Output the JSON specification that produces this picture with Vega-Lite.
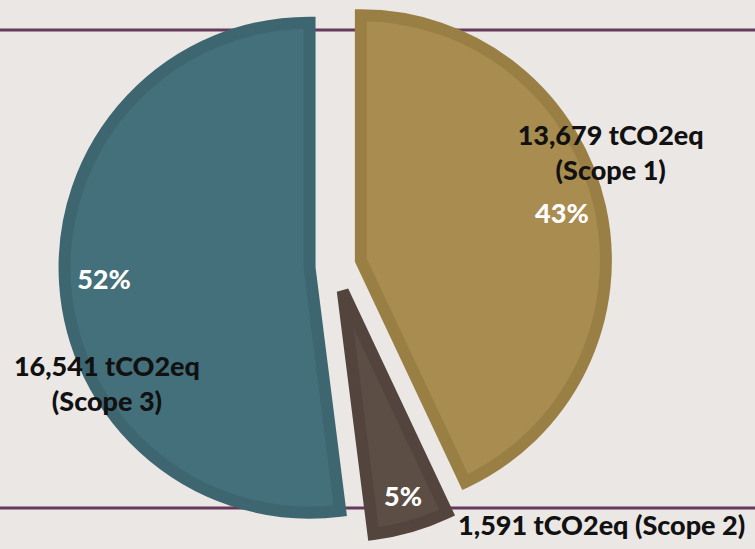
{
  "$schema": "https://vega.github.io/schema/vega-lite/v6.json",
  "width": 755,
  "height": 549,
  "autosize": {"type": "none"},
  "padding": 0,
  "background": "#ebe7e5",
  "config": {"view": {"stroke": null}},
  "datasets": {
    "slices": [
      {"scope": "Scope 1", "value": 13679, "pct": "43%", "label": "13,679 tCO2eq\n(Scope 1)", "order": 1},
      {"scope": "Scope 2", "value": 1591, "pct": "5%", "label": "1,591 tCO2eq (Scope 2)", "order": 2},
      {"scope": "Scope 3", "value": 16541, "pct": "52%", "label": "16,541 tCO2eq\n(Scope 3)", "order": 3}
    ],
    "lines": [{"pos": 30}, {"pos": 508}]
  },
  "layer": [
    {
      "data": {"name": "lines"},
      "mark": {"type": "rule", "color": "#663a5e", "strokeWidth": 3},
      "encoding": {
        "y": {"field": "pos", "type": "quantitative", "scale": {"domain": [0, 549], "reverse": true, "nice": false, "zero": false}, "axis": null}
      }
    },
    {
      "data": {"name": "slices"},
      "encoding": {
        "theta": {"field": "value", "type": "quantitative", "stack": true},
        "order": {"field": "order", "type": "quantitative"}
      },
      "layer": [
        {
          "mark": {
            "type": "arc",
            "outerRadius": 245,
            "strokeWidth": 12,
            "strokeJoin": "miter",
            "x": {"expr": "width/2 - 42 + 26*sin((scale('theta', datum.value_start) + scale('theta', datum.value_end))/2)"},
            "y": {"expr": "height/2 - 8.5 - 26*cos((scale('theta', datum.value_start) + scale('theta', datum.value_end))/2)"}
          },
          "encoding": {
            "fill": {"field": "scope", "type": "nominal", "scale": {"domain": ["Scope 1", "Scope 2", "Scope 3"], "range": ["#a98c4f", "#5c4d45", "#44707b"]}, "legend": null},
            "stroke": {"field": "scope", "type": "nominal", "scale": {"domain": ["Scope 1", "Scope 2", "Scope 3"], "range": ["#9a7f45", "#53453e", "#3d6670"]}, "legend": null}
          }
        },
        {
          "mark": {
            "type": "text",
            "radius": {"expr": "datum.scope == 'Scope 2' ? 216 : 206"},
            "font": "Lato",
            "fontWeight": 900,
            "fontSize": 27,
            "fill": "#ffffff",
            "align": "center",
            "baseline": "middle",
            "x": {"expr": "width/2 - 42 + 26*sin((scale('theta', datum.value_start) + scale('theta', datum.value_end))/2)"},
            "y": {"expr": "height/2 - 8.5 - 26*cos((scale('theta', datum.value_start) + scale('theta', datum.value_end))/2)"}
          },
          "encoding": {"text": {"field": "pct"}}
        },
        {
          "mark": {
            "type": "text",
            "font": "Lato",
            "fontWeight": 900,
            "fontSize": 27,
            "fill": "#111111",
            "baseline": "middle",
            "lineBreak": "\n",
            "lineHeight": 35,
            "radius": {"expr": "datum.scope == 'Scope 1' ? 256 : datum.scope == 'Scope 3' ? 203 : 245"},
            "dy": {"expr": "datum.scope == 'Scope 1' ? -67 : datum.scope == 'Scope 3' ? 88 : 1"},
            "dx": {"expr": "datum.scope == 'Scope 2' ? 47 : 0"},
            "align": {"expr": "datum.scope == 'Scope 2' ? 'left' : 'center'"},
            "x": {"expr": "width/2 - 42 + 26*sin((scale('theta', datum.value_start) + scale('theta', datum.value_end))/2)"},
            "y": {"expr": "height/2 - 8.5 - 26*cos((scale('theta', datum.value_start) + scale('theta', datum.value_end))/2)"}
          },
          "encoding": {"text": {"field": "label"}}
        }
      ]
    }
  ]
}
